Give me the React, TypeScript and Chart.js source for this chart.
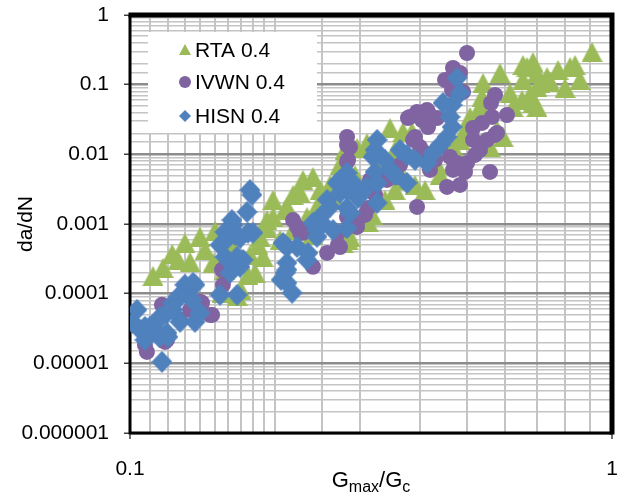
import React, { useEffect, useRef } from 'react';
import { Chart, registerables } from 'chart.js';

Chart.register(...registerables);

const seriesNames = ['RTA 0.4', 'IVWN 0.4', 'HISN 0.4'];
const seriesColors = ['#9BBB59', '#8064A2', '#4F81BD'];

const rtaPoints: [number, number][] = [
  [0.1116, 0.00018], [0.1171, 0.000235], [0.1223, 0.000372], [0.1258, 0.000305], [0.13, 0.000534],
  [0.1332, 0.000286], [0.1397, 0.000655], [0.1431, 0.000425], [0.1501, 0.000793], [0.1487, 0.000277],
  [0.1552, 0.000326], [0.1574, 0.00022], [0.1627, 0.0005], [0.1668, 0.000305], [0.1668, 0.0000929],
  [0.1552, 0.000103], [0.1757, 0.000186], [0.1699, 0.000113], [0.1774, 0.00036], [0.1843, 0.0005],
  [0.1888, 0.000337], [0.1861, 0.000655], [0.1924, 0.000876], [0.198, 0.00222], [0.198, 0.00126],
  [0.2048, 0.00059], [0.2117, 0.00176], [0.2179, 0.00082], [0.2253, 0.0028], [0.2329, 0.00126],
  [0.2397, 0.00474], [0.2443, 0.00176], [0.2386, 0.0007], [0.2285, 0.00429], [0.2179, 0.00262],
  [0.2097, 0.00159], [0.1924, 0.00114], [0.1817, 0.000199], [0.26, 0.00364], [0.2727, 0.00705],
  [0.2793, 0.01156], [0.2958, 0.01235], [0.3102, 0.0145], [0.3463, 0.0239], [0.3684, 0.021],
  [0.3847, 0.021], [0.3997, 0.0136], [0.2767, 0.000534], [0.2861, 0.000655], [0.3001, 0.00114],
  [0.3178, 0.00135], [0.3381, 0.00222], [0.3547, 0.00308], [0.372, 0.00429], [0.3903, 0.00364],
  [0.4093, 0.00308], [0.4335, 0.00705], [0.4504, 0.01156], [0.4679, 0.0127], [0.4838, 0.0161],
  [0.5075, 0.0344], [0.5323, 0.0478], [0.5401, 0.1057], [0.5375, 0.0666], [0.5401, 0.0392],
  [0.5584, 0.0127], [0.5774, 0.0224], [0.5857, 0.1472], [0.5941, 0.0178], [0.6143, 0.0759],
  [0.6232, 0.0478], [0.6536, 0.1917], [0.6536, 0.1168], [0.6506, 0.0603], [0.6662, 0.1795],
  [0.6759, 0.0711], [0.6856, 0.2118], [0.6856, 0.0546], [0.6988, 0.1472], [0.6988, 0.0927],
  [0.6988, 0.0478], [0.7089, 0.1057], [0.7331, 0.129], [0.7437, 0.1094], [0.7727, 0.1625],
  [0.7989, 0.0896], [0.8183, 0.1795], [0.838, 0.1917], [0.8583, 0.1168], [0.909, 0.2946],
  [0.3118, 0.00107], [0.2834, 0.00059], [0.4397, 0.00506], [0.4955, 0.0224], [0.5198, 0.019],
  [0.2479, 0.00308], [0.2663, 0.00222], [0.293, 0.00506], [0.3302, 0.00831], [0.3547, 0.01156],
];

const ivwnPoints: [number, number][] = [
  [0.1084, 0.0000146], [0.1074, 0.0000184], [0.1182, 0.0000203], [0.1193, 0.0000217], [0.1165, 0.0000691],
  [0.1466, 0.0000496], [0.1411, 0.0000738], [0.1559, 0.000134], [0.148, 0.0000496], [0.1397, 0.0000763],
  [0.1552, 0.00022], [0.1332, 0.0000586], [0.127, 0.0000421], [0.1127, 0.0000302], [0.2221, 0.000908],
  [0.2179, 0.00114], [0.2285, 0.000748], [0.2397, 0.000243], [0.2564, 0.000384], [0.2727, 0.000468],
  [0.2701, 0.000748], [0.282, 0.00126], [0.282, 0.00778], [0.282, 0.0136], [0.2834, 0.00831],
  [0.2253, 0.000748], [0.2701, 0.0005], [0.2958, 0.00107], [0.3073, 0.00135], [0.3118, 0.0017],
  [0.3148, 0.00429], [0.2902, 0.00126], [0.2861, 0.00104], [0.5003, 0.2848], [0.4679, 0.1736],
  [0.4838, 0.1472], [0.4504, 0.1168], [0.4657, 0.0839], [0.4908, 0.0786], [0.3773, 0.0332],
  [0.394, 0.0406], [0.4153, 0.0406], [0.4035, 0.0311], [0.4335, 0.0332], [0.4153, 0.0247],
  [0.3866, 0.0161], [0.3997, 0.0127], [0.4093, 0.01047], [0.4613, 0.00918], [0.4769, 0.00753],
  [0.5003, 0.00753], [0.4955, 0.00559], [0.4547, 0.00341], [0.5584, 0.00559], [0.394, 0.00176],
  [0.5149, 0.0239], [0.5375, 0.0282], [0.5149, 0.0161], [0.5505, 0.0161], [0.5719, 0.019],
  [0.5638, 0.0344], [0.5719, 0.0711], [0.5323, 0.01156], [0.3581, 0.00474], [0.3413, 0.00429],
  [0.3463, 0.0066], [0.4679, 0.00597], [0.5611, 0.0546], [0.6055, 0.0367], [0.5774, 0.0203],
  [0.282, 0.0178], [0.381, 0.0344], [0.4133, 0.0434], [0.3903, 0.0178], [0.4397, 0.0127],
  [0.2861, 0.0127], [0.2861, 0.00144], [0.2958, 0.000908], [0.3224, 0.00262], [0.3633, 0.00705],
  [0.4192, 0.00597], [0.4294, 0.00831], [0.4838, 0.00364], [0.5198, 0.0098],
];

const hisnPoints: [number, number][] = [
  [0.1014, 0.0000381], [0.1034, 0.0000586], [0.1049, 0.0000302], [0.11, 0.0000334], [0.1165, 0.0000105],
  [0.1154, 0.0000464], [0.1193, 0.000053], [0.1228, 0.0000738], [0.127, 0.00009], [0.1332, 0.000125],
  [0.1364, 0.0000394], [0.127, 0.0000394], [0.1193, 0.0000273], [0.1537, 0.0000961], [0.1668, 0.0000961],
  [0.2169, 0.000103], [0.2117, 0.000143], [0.1791, 0.00262], [0.1749, 0.00149], [0.1627, 0.00114],
  [0.1574, 0.000768], [0.1652, 0.0007], [0.1537, 0.0005], [0.1574, 0.000337], [0.1652, 0.000243],
  [0.1716, 0.000305], [0.1364, 0.000134], [0.13, 0.000134], [0.1258, 0.00009], [0.1345, 0.0000815],
  [0.1397, 0.000053], [0.1228, 0.0000586], [0.1138, 0.0000394], [0.1074, 0.0000334], [0.1149, 0.000024],
  [0.1199, 0.000024], [0.1074, 0.0000217], [0.1635, 0.00097], [0.1597, 0.00063], [0.1691, 0.00063],
  [0.1757, 0.000748], [0.1799, 0.000748], [0.1668, 0.000337], [0.1691, 0.000243], [0.1612, 0.000199],
  [0.1351, 0.000143], [0.2077, 0.000534], [0.2221, 0.000468], [0.2329, 0.000305], [0.2117, 0.000277],
  [0.2097, 0.000199], [0.2397, 0.00104], [0.2479, 0.00126], [0.2564, 0.00222], [0.2689, 0.00389],
  [0.282, 0.0054], [0.2727, 0.0028], [0.2443, 0.00082], [0.2638, 0.00082], [0.282, 0.0017],
  [0.2117, 0.000468], [0.234, 0.000384], [0.2117, 0.00022], [0.2058, 0.000158], [0.2443, 0.000655],
  [0.2502, 0.00104], [0.26, 0.00176], [0.2727, 0.00429], [0.2861, 0.00144], [0.2972, 0.00237],
  [0.3102, 0.00341], [0.3224, 0.00559], [0.3224, 0.01156], [0.282, 0.00308], [0.1774, 0.00308],
  [0.4769, 0.1247], [0.4838, 0.0759], [0.4657, 0.0511], [0.4613, 0.0344], [0.4657, 0.0247],
  [0.4547, 0.0178], [0.4397, 0.0136], [0.4253, 0.01047], [0.4133, 0.00753], [0.3756, 0.0098],
  [0.3633, 0.01156], [0.3256, 0.0161], [0.3194, 0.00918], [0.3463, 0.00597], [0.3756, 0.00389],
  [0.3256, 0.00389], [0.3256, 0.00201], [0.4461, 0.0546], [0.2902, 0.00389], [0.282, 0.000876],
  [0.3903, 0.00831], [0.3381, 0.00831], [0.3547, 0.00506],
];

const xTickValues = [0.1, 1];
const xTickLabels = ['0.1', '1'];
const yTickValues = [1, 0.1, 0.01, 0.001, 0.0001, 0.00001, 0.000001];
const yTickLabels = ['1', '0.1', '0.01', '0.001', '0.0001', '0.00001', '0.000001'];
const xTitleParts = ['G', 'max', '/G', 'c'];
const yTitle = 'da/dN';

const FONT = "'Liberation Sans', Arial, sans-serif";

function isMajor(v: number) {
  const l = Math.log10(v);
  return Math.abs(l - Math.round(l)) < 1e-6;
}

function labelFor(values: number[], labels: string[], v: number) {
  for (let i = 0; i < values.length; i++) {
    if (Math.abs(Math.log10(v) - Math.log10(values[i])) < 1e-6) return labels[i];
  }
  return '';
}

function makeTriangle(color: string, w: number, h: number) {
  const c = document.createElement('canvas');
  c.width = w;
  c.height = h;
  const g = c.getContext('2d')!;
  g.fillStyle = color;
  g.beginPath();
  g.moveTo(w / 2, 0);
  g.lineTo(w, h);
  g.lineTo(0, h);
  g.closePath();
  g.fill();
  return c;
}

function makeDiamond(color: string, w: number, h: number) {
  const c = document.createElement('canvas');
  c.width = w;
  c.height = h;
  const g = c.getContext('2d')!;
  g.fillStyle = color;
  g.beginPath();
  g.moveTo(w / 2, 0);
  g.lineTo(w, h / 2);
  g.lineTo(w / 2, h);
  g.lineTo(0, h / 2);
  g.closePath();
  g.fill();
  return c;
}

const toXY = (pts: [number, number][]) => pts.map(([x, y]) => ({ x, y }));

export default function App() {
  const ref = useRef<HTMLCanvasElement>(null);

  useEffect(() => {
    const canvas = ref.current;
    if (!canvas) return;
    const tri = makeTriangle(seriesColors[0], 21, 20);
    const dia = makeDiamond(seriesColors[2], 21, 22);

    const overlay = {
      id: 'overlay',
      beforeDatasetsDraw(chart: any) {
        const { ctx, chartArea: a } = chart;
        ctx.save();
        // legend box
        const lx = a.left + 18;
        const ly = a.top + 17;
        ctx.fillStyle = '#ffffff';
        ctx.fillRect(lx, ly, 169, 101);
        const mx = a.left + 55;
        const tx = a.left + 65;
        const rows = [a.top + 35, a.top + 67, a.top + 101];
        ctx.fillStyle = seriesColors[0];
        ctx.beginPath();
        ctx.moveTo(mx, rows[0] - 6);
        ctx.lineTo(mx + 6, rows[0] + 5);
        ctx.lineTo(mx - 6, rows[0] + 5);
        ctx.closePath();
        ctx.fill();
        ctx.fillStyle = seriesColors[1];
        ctx.beginPath();
        ctx.arc(mx, rows[1], 6, 0, Math.PI * 2);
        ctx.fill();
        ctx.fillStyle = seriesColors[2];
        ctx.beginPath();
        ctx.moveTo(mx, rows[2] - 6);
        ctx.lineTo(mx + 6, rows[2]);
        ctx.lineTo(mx, rows[2] + 6);
        ctx.lineTo(mx - 6, rows[2]);
        ctx.closePath();
        ctx.fill();
        ctx.fillStyle = '#000';
        ctx.font = `21px ${FONT}`;
        ctx.textAlign = 'left';
        ctx.textBaseline = 'middle';
        seriesNames.forEach((n, i) => ctx.fillText(n, tx, rows[i] + 1));

        // plot border
        ctx.strokeStyle = '#000';
        ctx.lineWidth = 3;
        ctx.beginPath();
        ctx.moveTo(a.left, a.top);
        ctx.lineTo(a.left, a.bottom);
        ctx.lineTo(a.right, a.bottom);
        ctx.stroke();
        ctx.lineWidth = 5;
        ctx.beginPath();
        ctx.moveTo(a.left - 1.5, a.top);
        ctx.lineTo(a.right, a.top);
        ctx.lineTo(a.right, a.bottom + 1.5);
        ctx.stroke();
        ctx.restore();
      },
      afterDraw(chart: any) {
        const { ctx, chartArea: a } = chart;
        ctx.save();
        ctx.fillStyle = '#000';
        ctx.textBaseline = 'alphabetic';
        ctx.textAlign = 'left';
        const big = `22px ${FONT}`;
        const small = `16px ${FONT}`;
        const fonts = [big, small, big, small];
        const widths = xTitleParts.map((p, i) => {
          ctx.font = fonts[i];
          return ctx.measureText(p).width;
        });
        const total = widths.reduce((s, w) => s + w, 0);
        let x = (a.left + a.right) / 2 - total / 2;
        const base = a.bottom + 54;
        xTitleParts.forEach((p, i) => {
          ctx.font = fonts[i];
          ctx.fillText(p, x, i % 2 === 1 ? base + 5 : base);
          x += widths[i];
        });
        ctx.restore();
      },
    };

    const chart = new Chart(canvas, {
      type: 'scatter',
      data: {
        datasets: [
          {
            label: seriesNames[0],
            data: toXY(rtaPoints),
            pointStyle: tri as any,
            pointRadius: 10,
            backgroundColor: seriesColors[0],
            borderWidth: 0,
            order: 3,
          },
          {
            label: seriesNames[1],
            data: toXY(ivwnPoints),
            pointStyle: 'circle',
            pointRadius: 8,
            backgroundColor: seriesColors[1],
            borderColor: seriesColors[1],
            borderWidth: 0,
            order: 2,
          },
          {
            label: seriesNames[2],
            data: toXY(hisnPoints),
            pointStyle: dia as any,
            pointRadius: 10,
            backgroundColor: seriesColors[2],
            borderWidth: 0,
            order: 1,
          },
        ],
      },
      options: {
        responsive: false,
        devicePixelRatio: 1,
        animation: false,
        events: [],
        layout: { padding: { left: 0, top: 15, right: 16, bottom: 0 } },
        plugins: {
          legend: { display: false },
          tooltip: { enabled: false },
        },
        scales: {
          x: {
            type: 'logarithmic',
            min: 0.1,
            max: 1,
            position: 'bottom',
            afterFit: (s: any) => {
              s.height = 66;
              s.paddingLeft = 0;
              s.paddingRight = 0;
            },
            border: { display: false },
            grid: {
              color: (c: any) => (c.tick && isMajor(c.tick.value) ? '#8c8c8c' : '#c4c4c4'),
              lineWidth: 2,
              tickLength: 6,
              tickColor: (c: any) => (c.tick && isMajor(c.tick.value) ? '#404040' : 'rgba(0,0,0,0)'),
              tickWidth: 1.5,
            },
            ticks: {
              autoSkip: false,
              maxRotation: 0,
              minRotation: 0,
              padding: 18,
              color: '#000',
              font: { family: FONT, size: 21 },
              callback: (v: any) => labelFor(xTickValues, xTickLabels, Number(v)),
            },
          },
          y: {
            type: 'logarithmic',
            min: 0.000001,
            max: 1,
            position: 'left',
            afterFit: (s: any) => {
              s.width = 130;
              s.paddingTop = 0;
              s.paddingBottom = 0;
            },
            border: { display: false },
            title: {
              display: true,
              text: yTitle,
              color: '#000',
              font: { family: FONT, size: 21 },
              padding: { top: 14, bottom: 0 },
            },
            grid: {
              color: (c: any) => (c.tick && isMajor(c.tick.value) ? '#8c8c8c' : '#c4c4c4'),
              lineWidth: (c: any) => (c.tick && isMajor(c.tick.value) ? 2.5 : 1.5),
              tickLength: 6,
              tickColor: (c: any) => (c.tick && isMajor(c.tick.value) ? '#404040' : 'rgba(0,0,0,0)'),
              tickWidth: 1.5,
            },
            ticks: {
              autoSkip: false,
              padding: 15,
              color: '#000',
              font: { family: FONT, size: 21 },
              callback: (v: any) => labelFor(yTickValues, yTickLabels, Number(v)),
            },
          },
        },
      },
      plugins: [overlay],
    });
    return () => chart.destroy();
  }, []);

  return (
    <div style={{ position: 'absolute', left: 0, top: 0, width: 628, height: 499, background: '#fff' }}>
      <canvas ref={ref} width={628} height={499} style={{ display: 'block' }} />
    </div>
  );
}
